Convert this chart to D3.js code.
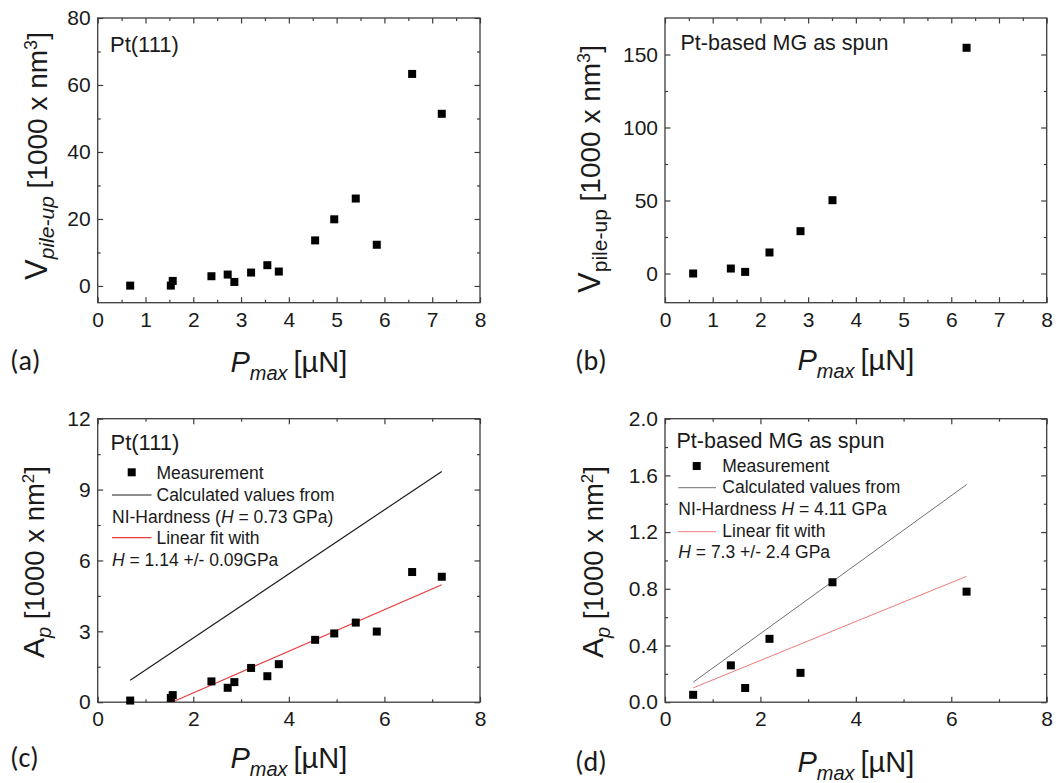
<!DOCTYPE html>
<html>
<head>
<meta charset="utf-8">
<script src="https://cdn.jsdelivr.net/npm/d3@7"></script>
<style>
  body { margin: 0; background: #fff; }
  svg { display: block; }
</style>
</head>
<body>
<svg id="fig" width="1061" height="783"></svg>
<script>
// ---- Pt(111) single crystal ----
const ptLoad   = [0.68, 1.53, 1.57, 2.38, 2.72, 2.86, 3.21, 3.55, 3.79, 4.55, 4.95, 5.40, 5.84, 6.58, 7.20];
const ptPileUp = [0.1, 0.1, 1.5, 2.9, 3.4, 1.2, 4.0, 6.2, 4.3, 13.6, 19.9, 26.1, 12.3, 63.3, 51.4];
const ptArea   = [0.07, 0.18, 0.30, 0.88, 0.61, 0.85, 1.45, 1.10, 1.61, 2.64, 2.91, 3.37, 2.99, 5.51, 5.31];

// ---- Pt-based metallic glass, as spun ----
const mgLoad   = [0.59, 1.38, 1.68, 2.19, 2.84, 3.51, 6.32];
const mgPileUp = [0.0, 3.4, 1.1, 14.4, 29.0, 50.2, 154.6];
const mgArea   = [0.052, 0.26, 0.10, 0.447, 0.207, 0.846, 0.78];

// ---- line end points (load in uN, area in 1000 nm^2) ----
const ptCalcLoad = [0.68, 7.20], ptCalcArea = [0.93, 9.77];   // from NI hardness, H = 0.73 GPa
const ptFitLoad  = [1.55, 7.20], ptFitArea  = [0.00, 4.97];   // linear fit, H = 1.14 GPa
const mgCalcLoad = [0.59, 6.32], mgCalcArea = [0.141, 1.535]; // from NI hardness, H = 4.11 GPa
const mgFitLoad  = [0.59, 6.32], mgFitArea  = [0.101, 0.888]; // linear fit, H = 7.3 GPa

// ---- ticks ----
const xTicksTop    = [0, 1, 2, 3, 4, 5, 6, 7, 8];
const xMinorTop    = [0.5, 1.5, 2.5, 3.5, 4.5, 5.5, 6.5, 7.5];
const xTicksBottom = [0, 2, 4, 6, 8];
const xMinorBottom = [1, 3, 5, 7];
const yTicksA = [0, 20, 40, 60, 80],   yMinorA = [10, 30, 50, 70];
const yTicksB = [0, 50, 100, 150],     yMinorB = [25, 75, 125];
const yTicksC = [0, 3, 6, 9, 12],      yMinorC = [1.5, 4.5, 7.5, 10.5];
const yTicksD = [0, 0.4, 0.8, 1.2, 1.6, 2.0], yMinorD = [0.2, 0.6, 1.0, 1.4, 1.8];
const yLabelsD = ["0.0", "0.4", "0.8", "1.2", "1.6", "2.0"];

const svg = d3.select("#fig");
const SANS = "'Liberation Sans', Arial, sans-serif";
const FRAME = "#3c3c3c";

function panel(o) {
  const g = svg.append("g");
  const x = d3.scaleLinear().domain(o.xDomain).range([o.left, o.right]);
  const y = d3.scaleLinear().domain(o.yDomain).range([o.bottom, o.top]);

  const style = sel => {
    sel.select(".domain").remove();
    sel.selectAll("line").attr("stroke", FRAME).attr("stroke-width", 1.2);
    sel.selectAll("text").attr("font-family", SANS).attr("font-size", 21).attr("fill", "#1a1a1a");
  };

  // bottom axis with labels
  g.append("g").attr("transform", `translate(0,${o.bottom})`)
    .call(d3.axisBottom(x).tickValues(o.xTicks).tickSize(-5.5).tickPadding(9).tickFormat(d3.format("d")))
    .call(style);
  g.append("g").attr("transform", `translate(0,${o.bottom})`)
    .call(d3.axisBottom(x).tickValues(o.xMinor).tickSize(-3).tickFormat(""))
    .call(style);
  // top axis, ticks only
  g.append("g").attr("transform", `translate(0,${o.top})`)
    .call(d3.axisTop(x).tickValues(o.xTicks).tickSize(-5.5).tickFormat(""))
    .call(style);
  g.append("g").attr("transform", `translate(0,${o.top})`)
    .call(d3.axisTop(x).tickValues(o.xMinor).tickSize(-3).tickFormat(""))
    .call(style);
  // left axis with labels
  g.append("g").attr("transform", `translate(${o.left},0)`)
    .call(d3.axisLeft(y).tickValues(o.yTicks).tickSize(-5.5).tickPadding(7)
      .tickFormat((d, i) => o.yLabels ? o.yLabels[i] : d3.format("d")(d)))
    .call(style);
  g.append("g").attr("transform", `translate(${o.left},0)`)
    .call(d3.axisLeft(y).tickValues(o.yMinor).tickSize(-3).tickFormat(""))
    .call(style);
  // right axis, ticks only
  g.append("g").attr("transform", `translate(${o.right},0)`)
    .call(d3.axisRight(y).tickValues(o.yTicks).tickSize(-5.5).tickFormat(""))
    .call(style);
  g.append("g").attr("transform", `translate(${o.right},0)`)
    .call(d3.axisRight(y).tickValues(o.yMinor).tickSize(-3).tickFormat(""))
    .call(style);

  // frame
  g.append("rect")
    .attr("x", o.left).attr("y", o.top)
    .attr("width", o.right - o.left).attr("height", o.bottom - o.top)
    .attr("fill", "none").attr("stroke", FRAME).attr("stroke-width", 1.3);

  // reference lines
  (o.lines || []).forEach(l => {
    g.append("path")
      .datum(d3.zip(l.xs, l.ys))
      .attr("d", d3.line().x(d => x(d[0])).y(d => y(d[1])))
      .attr("fill", "none").attr("stroke", l.color).attr("stroke-width", l.width);
  });

  // measured points
  const s = 8;
  g.append("g").selectAll("rect")
    .data(d3.zip(o.px, o.py))
    .join("rect")
    .attr("x", d => x(d[0]) - s / 2).attr("y", d => y(d[1]) - s / 2)
    .attr("width", s).attr("height", s).attr("fill", "#000");

  // x axis title
  const xt = g.append("text")
    .attr("x", (o.left + o.right) / 2).attr("y", o.xTitleY)
    .attr("text-anchor", "middle").attr("font-family", SANS).attr("font-size", 29).attr("fill", "#1a1a1a");
  xt.append("tspan").attr("font-style", "italic").text("P");
  xt.append("tspan").attr("font-style", "italic").attr("font-size", 20).attr("dy", 8).text("max");
  xt.append("tspan").attr("dy", -8).text("\u2009[\u00b5N]");

  // y axis title
  const yt = g.append("text")
    .attr("transform", `translate(${o.yTitleX},${o.yTitleY}) rotate(-90)`)
    .attr("text-anchor", "middle").attr("font-family", SANS).attr("font-size", o.yTitleSize || 27).attr("fill", "#1a1a1a");
  o.yTitle(yt);

  // panel tag
  svg.append("text")
    .attr("x", o.tagX).attr("y", o.tagY)
    .attr("font-family", "Carlito, Lato, 'Open Sans', sans-serif").attr("font-size", 28).attr("fill", "#1a1a1a")
    .text(o.tag);

  return { g, x, y };
}

function vTitle(italicSub) {
  return t => {
    t.append("tspan").attr("font-size", 31).text("V");
    t.append("tspan").attr("font-size", 21).attr("dy", 7)
      .attr("font-style", italicSub ? "italic" : "normal").text("pile-up");
    t.append("tspan").attr("dy", -7).text(" [1000 x nm");
    t.append("tspan").attr("font-size", 18).attr("dy", -10).text("3");
    t.append("tspan").attr("dy", 10).text("]");
  };
}
function aTitle(t) {
  t.append("tspan").attr("font-size", 30).text("A");
  t.append("tspan").attr("font-size", 20).attr("dy", 7).attr("font-style", "italic").text("p");
  t.append("tspan").attr("dy", -7).text(" [1000 x nm");
  t.append("tspan").attr("font-size", 17).attr("dy", -10).text("2");
  t.append("tspan").attr("dy", 10).text("]");
}

function note(g, xPos, yPos, size, parts) {
  const t = g.append("text").attr("x", xPos).attr("y", yPos)
    .attr("font-family", SANS).attr("font-size", size).attr("fill", "#1a1a1a");
  parts.forEach(p => {
    t.append("tspan").attr("font-style", p[1] ? "italic" : "normal").text(p[0]);
  });
}

// ---------- (a) ----------
const pa = panel({
  left: 97.7, right: 480, top: 18, bottom: 302.7,
  xDomain: [0, 8], yDomain: [-5, 80],
  xTicks: xTicksTop, xMinor: xMinorTop, yTicks: yTicksA, yMinor: yMinorA,
  px: ptLoad, py: ptPileUp,
  xTitleY: 371.5, yTitleX: 46.5, yTitleY: 156, yTitleSize: 28, yTitle: vTitle(true),
  tag: "(a)", tagX: 10, tagY: 370
});
note(pa.g, 110, 51.5, 22, [["Pt(111)"]]);

// ---------- (b) ----------
const pb = panel({
  left: 665, right: 1046.7, top: 18, bottom: 302.7,
  xDomain: [0, 8], yDomain: [-20, 175],
  xTicks: xTicksTop, xMinor: xMinorTop, yTicks: yTicksB, yMinor: yMinorB,
  px: mgLoad, py: mgPileUp,
  xTitleY: 370, yTitleX: 600, yTitleY: 169, yTitleSize: 28, yTitle: vTitle(false),
  tag: "(b)", tagX: 575, tagY: 370
});
note(pb.g, 680.5, 50, 21.5, [["Pt-based MG as spun"]]);

// ---------- (c) ----------
const pc = panel({
  left: 97.7, right: 480, top: 418.7, bottom: 702.2,
  xDomain: [0, 8], yDomain: [0, 12],
  xTicks: xTicksBottom, xMinor: xMinorBottom, yTicks: yTicksC, yMinor: yMinorC,
  px: ptLoad, py: ptArea,
  lines: [
    { xs: ptCalcLoad, ys: ptCalcArea, color: "#1e1e1e", width: 1.2 },
    { xs: ptFitLoad, ys: ptFitArea, color: "#e8393c", width: 1.2 }
  ],
  xTitleY: 768, yTitleX: 43.5, yTitleY: 562, yTitleSize: 27.5, yTitle: aTitle,
  tag: "(c)", tagX: 10, tagY: 767
});
note(pc.g, 110.5, 450, 22, [["Pt(111)"]]);
pc.g.append("rect").attr("x", 127.7).attr("y", 468.3).attr("width", 8).attr("height", 8).attr("fill", "#000");
note(pc.g, 156.5, 479.3, 17.5, [["Measurement"]]);
pc.g.append("line").attr("x1", 112).attr("x2", 151.5).attr("y1", 495).attr("y2", 495).attr("stroke", "#1e1e1e").attr("stroke-width", 1.2);
note(pc.g, 156.5, 501, 17.5, [["Calculated values from"]]);
note(pc.g, 112, 522.7, 17.5, [["NI-Hardness ("], ["H", true], [" = 0.73 GPa)"]]);
pc.g.append("line").attr("x1", 112).attr("x2", 151.5).attr("y1", 537.7).attr("y2", 537.7).attr("stroke", "#e8393c").attr("stroke-width", 1.2);
note(pc.g, 156.5, 544.3, 17.5, [["Linear fit with"]]);
note(pc.g, 112, 566, 17.5, [["H", true], [" = 1.14 +/- 0.09GPa"]]);

// ---------- (d) ----------
const pd = panel({
  left: 665, right: 1046.7, top: 418.7, bottom: 702.2,
  xDomain: [0, 8], yDomain: [0, 2.0],
  xTicks: xTicksBottom, xMinor: xMinorBottom, yTicks: yTicksD, yMinor: yMinorD, yLabels: yLabelsD,
  px: mgLoad, py: mgArea,
  lines: [
    { xs: mgCalcLoad, ys: mgCalcArea, color: "#707070", width: 1 },
    { xs: mgFitLoad, ys: mgFitArea, color: "#ec7a7a", width: 1 }
  ],
  xTitleY: 772, yTitleX: 603, yTitleY: 562, yTitleSize: 27.5, yTitle: aTitle,
  tag: "(d)", tagX: 575, tagY: 771
});
note(pd.g, 676.5, 448.3, 21.5, [["Pt-based MG as spun"]]);
pd.g.append("rect").attr("x", 692.7).attr("y", 462).attr("width", 8).attr("height", 8).attr("fill", "#000");
note(pd.g, 722.3, 471.7, 17.5, [["Measurement"]]);
pd.g.append("line").attr("x1", 678.3).attr("x2", 716).attr("y1", 487.7).attr("y2", 487.7).attr("stroke", "#707070").attr("stroke-width", 1);
note(pd.g, 722.3, 493.3, 17.5, [["Calculated values from"]]);
note(pd.g, 678.3, 515, 17.5, [["NI-Hardness "], ["H", true], [" = 4.11 GPa"]]);
pd.g.append("line").attr("x1", 678.3).attr("x2", 716).attr("y1", 531.7).attr("y2", 531.7).attr("stroke", "#ec7a7a").attr("stroke-width", 1);
note(pd.g, 722.3, 536.7, 17.5, [["Linear fit with"]]);
note(pd.g, 678.3, 558.3, 17.5, [["H", true], [" = 7.3 +/- 2.4 GPa"]]);
</script>
</body>
</html>
